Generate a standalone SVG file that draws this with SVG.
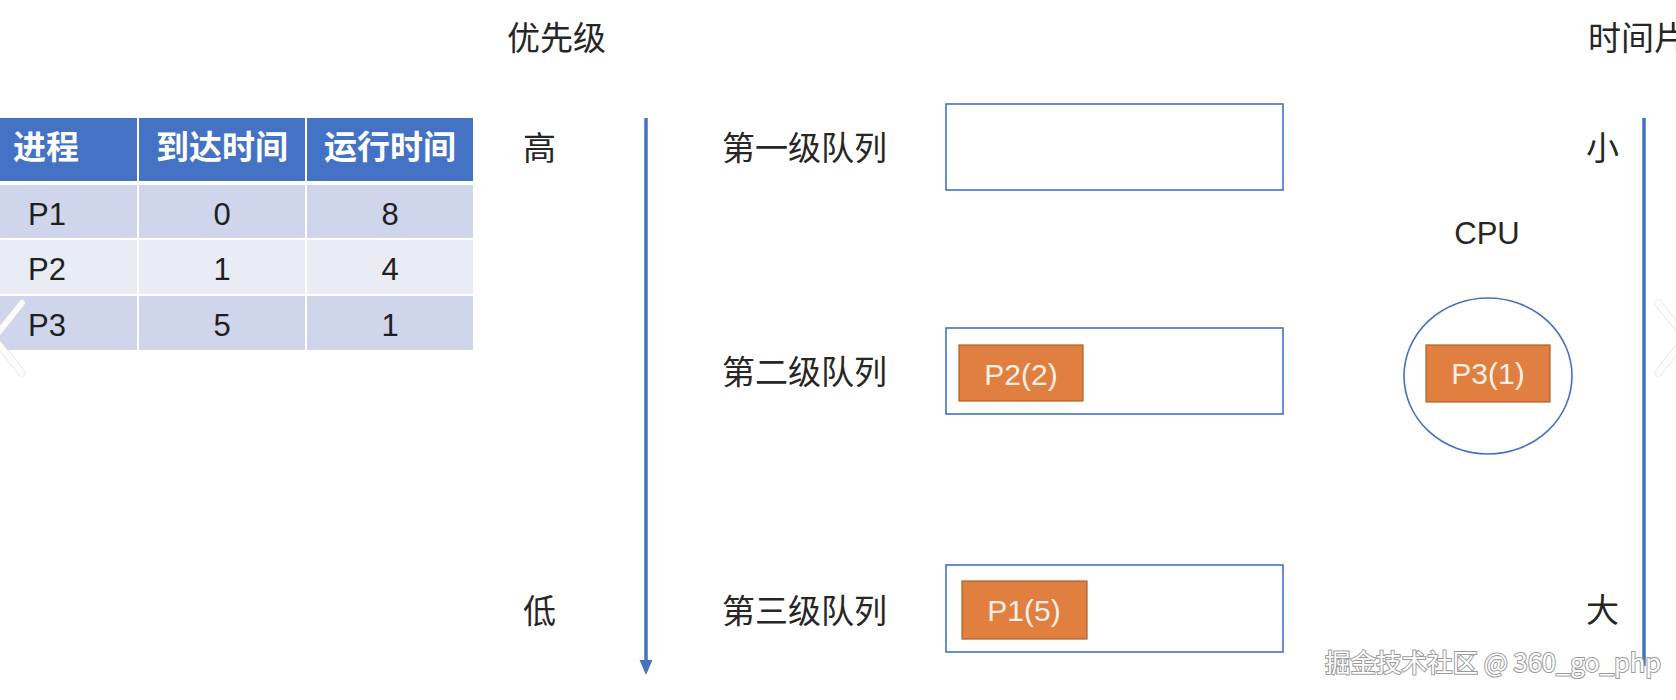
<svg xmlns="http://www.w3.org/2000/svg" width="1676" height="700" viewBox="0 0 1676 700">
  <defs>
    <style>
      .t { font-family: "Liberation Sans", "Noto Sans CJK SC", sans-serif; fill: #262626; }
      .cjk { font-family: "Noto Sans CJK SC", "Liberation Sans", sans-serif; font-size: 33px; fill: #262626; }
      .hd { font-family: "Noto Sans CJK SC", sans-serif; font-size: 33px; font-weight: bold; fill: #ffffff; }
      .num { font-family: "Liberation Sans", sans-serif; font-size: 31px; fill: #1f1f1f; text-anchor: middle; }
      .qbox { fill: #ffffff; stroke: #4472C4; stroke-width: 1.6; }
      .proc { fill: #E07F3F; stroke: #B0602A; stroke-width: 1.2; }
      .ptxt { font-family: "Liberation Sans", sans-serif; font-size: 30px; fill: #FBEFE6; text-anchor: middle; }
      .axis { stroke: #4472C4; stroke-width: 3.5; fill: none; }
      .chev { stroke: #ffffff; stroke-width: 6; stroke-linecap: round; fill: none; opacity: 0.9; }
      .chevs { stroke: #d8d8d8; stroke-width: 8; stroke-linecap: round; fill: none; opacity: 0.5; }
    </style>
  </defs>
  <rect width="1676" height="700" fill="#ffffff"/>

  <!-- table -->
  <g id="table">
    <rect x="-45" y="118" width="182" height="63" fill="#4472C4"/>
    <rect x="139" y="118" width="166" height="63" fill="#4472C4"/>
    <rect x="307" y="118" width="166" height="63" fill="#4472C4"/>
    <rect x="-45" y="185" width="182" height="53" fill="#CFD5EA"/>
    <rect x="139" y="185" width="166" height="53" fill="#CFD5EA"/>
    <rect x="307" y="185" width="166" height="53" fill="#CFD5EA"/>
    <rect x="-45" y="240" width="182" height="54" fill="#E9EBF5"/>
    <rect x="139" y="240" width="166" height="54" fill="#E9EBF5"/>
    <rect x="307" y="240" width="166" height="54" fill="#E9EBF5"/>
    <rect x="-45" y="296" width="182" height="54" fill="#CFD5EA"/>
    <rect x="139" y="296" width="166" height="54" fill="#CFD5EA"/>
    <rect x="307" y="296" width="166" height="54" fill="#CFD5EA"/>
    <text class="hd" x="13" y="159">进程</text>
    <text class="hd" x="222" y="159" text-anchor="middle">到达时间</text>
    <text class="hd" x="390" y="159" text-anchor="middle">运行时间</text>
    <text class="num" x="47" y="225">P1</text>
    <text class="num" x="222" y="225">0</text>
    <text class="num" x="390" y="225">8</text>
    <text class="num" x="47" y="280">P2</text>
    <text class="num" x="222" y="280">1</text>
    <text class="num" x="390" y="280">4</text>
    <text class="num" x="47" y="336">P3</text>
    <text class="num" x="222" y="336">5</text>
    <text class="num" x="390" y="336">1</text>
  </g>

  <!-- labels -->
  <g id="priority-labels">
    <text class="cjk" x="507" y="50">优先级</text>
    <text class="cjk" x="523" y="160">高</text>
    <text class="cjk" x="523" y="623">低</text>
  </g>
  <g id="timeslice-labels">
    <text class="cjk" x="1588" y="50">时间片</text>
    <text class="cjk" x="1586" y="160">小</text>
    <text class="cjk" x="1586" y="622">大</text>
  </g>

  <!-- queues -->
  <g id="queue1">
    <text class="cjk" x="722" y="160">第一级队列</text>
    <rect class="qbox" x="946" y="104" width="337" height="86"/>
  </g>
  <g id="queue2">
    <text class="cjk" x="722" y="384">第二级队列</text>
    <rect class="qbox" x="946" y="328" width="337" height="86"/>
  </g>
  <g id="queue3">
    <text class="cjk" x="722" y="623">第三级队列</text>
    <rect class="qbox" x="946" y="565" width="337" height="87"/>
  </g>

  <g id="p2">
    <rect class="proc" x="959" y="345" width="124" height="56"/>
    <text class="ptxt" x="1021" y="385">P2(2)</text>
  </g>
  <g id="p1">
    <rect class="proc" x="962" y="581" width="125" height="58"/>
    <text class="ptxt" x="1024" y="621">P1(5)</text>
  </g>

  <!-- CPU -->
  <g id="cpu">
    <text class="t" x="1487" y="244" font-size="31" text-anchor="middle">CPU</text>
    <ellipse cx="1488" cy="376" rx="84" ry="78" fill="#ffffff" stroke="#4472C4" stroke-width="1.6"/>
  </g>
  <g id="p3">
    <rect class="proc" x="1426" y="345" width="124" height="57"/>
    <text class="ptxt" x="1488" y="384">P3(1)</text>
  </g>

  <!-- connectors / axes -->
  <g id="connectors">
    <line class="axis" x1="646" y1="118" x2="646" y2="662"/>
    <path d="M639.5,660 L652.5,660 L646,675 z" fill="#4472C4"/>
    <line class="axis" x1="1644" y1="118" x2="1644" y2="666"/>
  </g>

  <!-- carousel chevrons -->
  <g id="chevrons">
    <path class="chevs" d="M22,303 L-6,338 L22,373"/>
    <path class="chev" d="M22,303 L-6,338 L22,373"/>
    <path class="chevs" d="M1658,303 L1686,338 L1658,373"/>
    <path class="chev" d="M1658,303 L1686,338 L1658,373"/>
  </g>

  <!-- watermark -->
  <g id="watermark">
    <text x="1325" y="672" font-family="Noto Sans CJK SC, Liberation Sans, sans-serif" font-size="25.5" fill="#ffffff" stroke="#9a9a9a" stroke-width="2" paint-order="stroke">掘金技术社区 @ 360_go_php</text>
  </g>
</svg>
